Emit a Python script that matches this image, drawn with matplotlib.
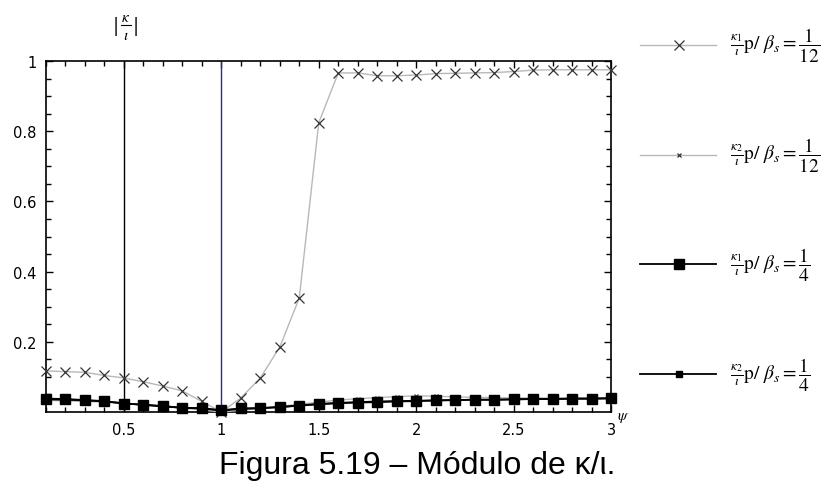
import numpy as np
import matplotlib
matplotlib.use("Agg")
import matplotlib.pyplot as plt
from matplotlib.lines import Line2D

psi = [0.1, 0.2, 0.3, 0.4, 0.5, 0.6, 0.7, 0.8, 0.9, 1.0,
       1.1, 1.2, 1.3, 1.4, 1.5, 1.6, 1.7, 1.8, 1.9, 2.0,
       2.1, 2.2, 2.3, 2.4, 2.5, 2.6, 2.7, 2.8, 2.9, 3.0]

k1_12 = [0.117, 0.115, 0.113, 0.104, 0.097, 0.086, 0.074, 0.060, 0.030, 0.0,
         0.040, 0.097, 0.185, 0.325, 0.824, 0.966, 0.966, 0.958, 0.958, 0.960,
         0.964, 0.965, 0.966, 0.967, 0.970, 0.974, 0.975, 0.975, 0.975, 0.975]
k2_12 = [0.033, 0.032, 0.030, 0.028, 0.024, 0.020, 0.016, 0.011, 0.006, 0.0,
         0.005, 0.010, 0.016, 0.022, 0.028, 0.034, 0.038, 0.041, 0.044, 0.046,
         0.045, 0.043, 0.042, 0.041, 0.040, 0.040, 0.040, 0.040, 0.040, 0.040]
k1_4 = [0.038, 0.037, 0.034, 0.031, 0.024, 0.021, 0.017, 0.012, 0.011, 0.005,
        0.010, 0.011, 0.014, 0.018, 0.022, 0.025, 0.027, 0.028, 0.030, 0.031,
        0.033, 0.034, 0.035, 0.035, 0.036, 0.037, 0.037, 0.038, 0.038, 0.039]
k2_4 = [0.036, 0.035, 0.033, 0.030, 0.025, 0.020, 0.016, 0.012, 0.010, 0.004,
        0.009, 0.011, 0.014, 0.019, 0.023, 0.026, 0.028, 0.030, 0.031, 0.032,
        0.033, 0.034, 0.035, 0.035, 0.036, 0.037, 0.037, 0.038, 0.038, 0.039]

labels = [r"$\frac{\kappa_1}{\iota}\mathrm{p}/\ \beta_s = \dfrac{1}{12}$",
          r"$\frac{\kappa_2}{\iota}\mathrm{p}/\ \beta_s = \dfrac{1}{12}$",
          r"$\frac{\kappa_1}{\iota}\mathrm{p}/\ \beta_s = \dfrac{1}{4}$",
          r"$\frac{\kappa_2}{\iota}\mathrm{p}/\ \beta_s = \dfrac{1}{4}$"]
xticks = [0.5, 1, 1.5, 2, 2.5, 3]
xticklabels = ["0.5", "1", "1.5", "2", "2.5", "3"]
yticks = [0.2, 0.4, 0.6, 0.8, 1.0]
yticklabels = ["0.2", "0.4", "0.6", "0.8", "1"]
caption = "Figura 5.19 – Módulo de κ/ι."

plt.rcParams['mathtext.fontset'] = 'stix'
W, H = 834, 489

fig = plt.figure(figsize=(8.34, 4.89), dpi=100)
ax = fig.add_axes([46/W, 1-413/H, (611-46)/W, (413-62)/H])

gray = '#b8b8b8'
styles = [
    dict(color=gray, lw=1.0, marker='x', ms=7, mew=0.9, mec='#333333'),
    dict(color=gray, lw=1.0, marker='x', ms=3.5, mew=0.9, mec='#333333'),
    dict(color='black', lw=1.3, marker='s', ms=6.5, mec='black', mfc='black'),
    dict(color='black', lw=1.3, marker='s', ms=4.5, mec='black', mfc='black'),
]
series = [k1_12, k2_12, k1_4, k2_4]
order = [1, 0, 3, 2]
for i in order:
    ax.plot(psi, series[i], zorder=3 + (i >= 2), clip_on=False, **styles[i])

ax.axvline(0.5, color='black', lw=1.0, zorder=2)
ax.axvline(1.0, color='#2a2aa0', lw=1.0, zorder=2)

ax.set_xlim(0.1, 3.0)
ax.set_ylim(0.0, 1.0)
ax.set_xticks(xticks)
ax.set_xticklabels(xticklabels, fontsize=10.5)
ax.set_yticks(yticks)
ax.set_yticklabels(yticklabels, fontsize=10.5)
ax.set_xticks(np.arange(0.1, 3.01, 0.1), minor=True)
ax.set_yticks(np.arange(0.05, 1.0, 0.05), minor=True)
ax.tick_params(which='both', direction='in', top=True, right=True, width=1.0)
ax.tick_params(which='major', length=5, pad=7)
ax.tick_params(which='minor', length=3.5)
for s in ax.spines.values():
    s.set_linewidth(1.2)

# y-axis label |kappa / iota| built from pieces
fig.text(116/W, 1-26/H, "|", ha='center', va='center', fontsize=13, family='DejaVu Serif')
fig.text(136/W, 1-26/H, "|", ha='center', va='center', fontsize=13, family='DejaVu Serif')
fig.text(126/W, 1-17/H, r"$\kappa$", ha='center', va='center', fontsize=11)
fig.text(126/W, 1-36/H, r"$\iota$", ha='center', va='center', fontsize=11)
fig.add_artist(Line2D([121/W, 131/W], [1-26/H, 1-26/H], transform=fig.transFigure,
                      color='black', lw=0.8))
fig.text(617/W, 1-418/H, r"$\psi$", ha='left', va='center', fontsize=11)

# legend, drawn manually at the reference rows
rows = [46, 156, 265, 375]
for i, yr in enumerate(rows):
    yf = 1 - yr/H
    st = dict(styles[i])
    mk = dict(marker=st.pop('marker'), ms=st.pop('ms'), mec=st.pop('mec'))
    if 'mew' in st:
        mk['mew'] = st.pop('mew')
    if 'mfc' in st:
        mk['mfc'] = st.pop('mfc')
    fig.add_artist(Line2D([640/W, 716/W], [yf, yf], transform=fig.transFigure, **st))
    fig.add_artist(Line2D([679/W], [yf], transform=fig.transFigure, linestyle='none',
                          color=st['color'], **mk))
    fig.text(730/W, yf, labels[i], ha='left', va='center', fontsize=14)

fig.text(417/W, 1-466/H, caption, ha='center', va='center',
         family=['Liberation Sans', 'DejaVu Sans'], fontsize=23)

fig.savefig("out.png", dpi=100)
